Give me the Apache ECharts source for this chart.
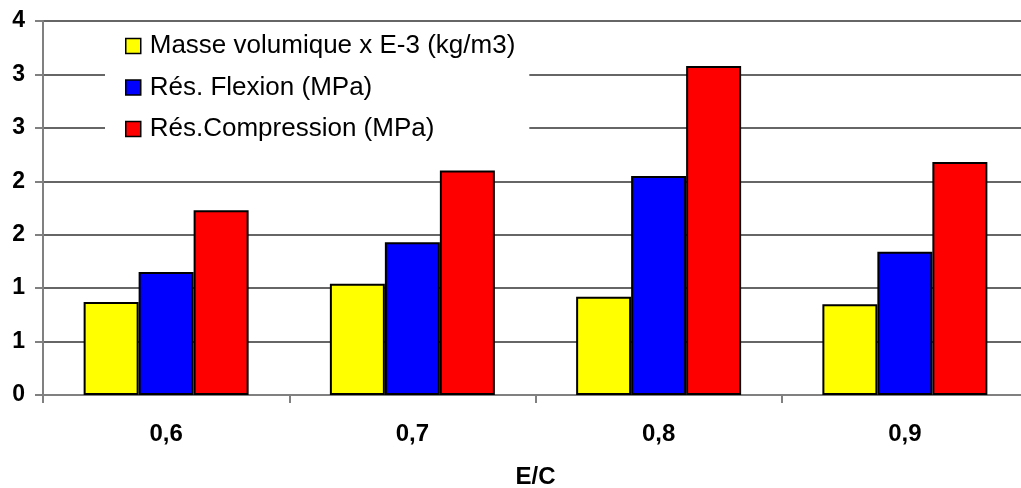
<!DOCTYPE html>
<html>
<head>
<meta charset="utf-8">
<script src="https://cdn.jsdelivr.net/npm/echarts@6/dist/echarts.min.js"></script>
<style>
  html, body { margin: 0; padding: 0; background: #fff; }
  #chart { width: 1021px; height: 488px; }
</style>
</head>
<body>
<div id="chart"></div>
<script>
// Water/cement ratio categories
const categories = ['0,6', '0,7', '0,8', '0,9'];

// Series values
const masseVolumique = [0.87, 1.04, 0.92, 0.85];
const resFlexion = [1.15, 1.43, 2.05, 1.34];
const resCompression = [1.73, 2.10, 3.08, 2.18];

// Y tick labels (values shown without decimals)
const yTickLabels = ['0', '1', '1', '2', '2', '3', '3', '4'];

const seriesNames = [
  'Masse volumique x E-3 (kg/m3)',
  'Rés. Flexion (MPa)',
  'Rés.Compression (MPa)'
];
const colors = ['#ffff00', '#0000ff', '#ff0000'];
const font = '"Liberation Sans", Arial, sans-serif';

const chart = echarts.init(document.getElementById('chart'));

function bar(name, data, color) {
  return {
    name: name,
    type: 'bar',
    data: data,
    barGap: '0%',
    barCategoryGap: '33%',
    itemStyle: { color: color, borderColor: '#000', borderWidth: 2 },
    emphasis: { disabled: true }
  };
}

chart.setOption({
  animation: false,
  color: colors,
  grid: { left: 43, right: -7, top: 21, bottom: 93, containLabel: false, outerBoundsMode: 'none' },
  legend: {
    orient: 'vertical',
    left: 105,
    top: 25,
    width: 423,
    padding: [8, 14, 8, 20],
    itemGap: 15.5,
    itemWidth: 15,
    itemHeight: 15,
    icon: 'rect',
    backgroundColor: '#ffffff',
    itemStyle: { borderColor: '#000', borderWidth: 1.5 },
    textStyle: { fontFamily: font, fontSize: 26, color: '#000', padding: [0, 0, 0, 4] },
    data: seriesNames
  },
  xAxis: {
    type: 'category',
    data: categories,
    name: 'E/C',
    nameLocation: 'middle',
    nameGap: 70,
    nameTextStyle: { fontFamily: font, fontSize: 24, fontWeight: 'bold', color: '#000' },
    axisLine: { lineStyle: { color: '#808080', width: 2 } },
    axisTick: { show: true, length: 8, lineStyle: { color: '#808080', width: 2 } },
    axisLabel: { fontFamily: font, fontSize: 24, fontWeight: 'bold', color: '#000', margin: 27 },
    splitLine: { show: false }
  },
  yAxis: {
    type: 'value',
    min: 0,
    max: 3.5,
    interval: 0.5,
    axisLine: { show: true, lineStyle: { color: '#808080', width: 2 } },
    axisTick: { show: true, length: 8, inside: false, lineStyle: { color: '#808080', width: 2 } },
    axisLabel: {
      fontFamily: font, fontSize: 23, fontWeight: 'bold', color: '#000', margin: 18,
      formatter: function (v) { return yTickLabels[Math.round(v / 0.5)]; }
    },
    splitLine: { show: true, lineStyle: { color: '#333333', width: 1.5 } }
  },
  series: [
    bar(seriesNames[0], masseVolumique, colors[0]),
    bar(seriesNames[1], resFlexion, colors[1]),
    bar(seriesNames[2], resCompression, colors[2])
  ]
});
</script>
</body>
</html>
